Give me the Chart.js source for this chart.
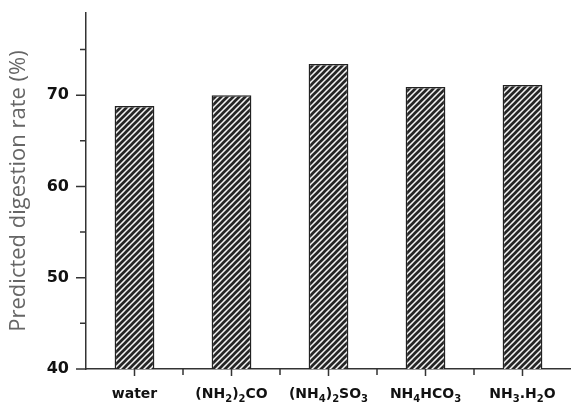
<!DOCTYPE html>
<html>
<head>
<meta charset="utf-8">
<script src="https://cdn.jsdelivr.net/npm/chart.js@4/dist/chart.umd.min.js"></script>
<style>
html,body{margin:0;padding:0;background:#fff;overflow:hidden;}
#wrap{width:571px;height:406px;position:relative;}
</style>
</head>
<body>
<div id="wrap"><canvas id="c" width="571" height="406"></canvas></div>
<script>
// "_x" marks a subscript character
const categories = ["water", "(NH_2)_2CO", "(NH_4)_2SO_3", "NH_4HCO_3", "NH_3.H_2O"];
const digestionRate = [68.8, 70.0, 73.4, 70.9, 71.1];
const yMajorTicks = [40, 50, 60, 70];
const yMinorTicks = [45, 55, 65, 75];

function makeHatch() {
  const s = 6;
  const p = document.createElement('canvas');
  p.width = s; p.height = s;
  const g = p.getContext('2d');
  g.fillStyle = '#f4f4f4';
  g.fillRect(0, 0, s, s);
  g.strokeStyle = '#262626';
  g.lineWidth = 2.7;
  g.beginPath();
  g.moveTo(-1, s + 1); g.lineTo(s + 1, -1);
  g.moveTo(-1, 1); g.lineTo(1, -1);
  g.moveTo(s - 1, s + 1); g.lineTo(s + 1, s - 1);
  g.stroke();
  return document.getElementById('c').getContext('2d').createPattern(p, 'repeat');
}

function parseLabel(str) {
  const segs = [];
  for (let i = 0; i < str.length; i++) {
    if (str[i] === '_' && i + 1 < str.length) { segs.push({ t: str[i + 1], sub: true }); i++; }
    else segs.push({ t: str[i], sub: false });
  }
  return segs;
}

const MAIN_FONT = 'bold 14px "DejaVu Sans"';
const SUB_FONT = 'bold 10px "DejaVu Sans"';

const tickPlugin = {
  id: 'customTicks',
  afterDraw(chart) {
    const ctx = chart.ctx;
    const y = chart.scales.y, x = chart.scales.x;
    const left = chart.chartArea.left, bottom = chart.chartArea.bottom;
    ctx.save();
    ctx.strokeStyle = '#333';
    ctx.lineWidth = 1.5;
    ctx.beginPath();
    yMajorTicks.forEach(v => { const py = y.getPixelForValue(v); ctx.moveTo(left - 10, py); ctx.lineTo(left, py); });
    yMinorTicks.forEach(v => { const py = y.getPixelForValue(v); ctx.moveTo(left - 6, py); ctx.lineTo(left, py); });
    categories.forEach((c, i) => {
      const px = x.getPixelForValue(i);
      ctx.moveTo(px, bottom); ctx.lineTo(px, bottom + 7);
      if (i > 0) {
        const prev = x.getPixelForValue(i - 1);
        const mid = (px + prev) / 2;
        ctx.moveTo(mid, bottom); ctx.lineTo(mid, bottom + 6);
      }
    });
    ctx.stroke();

    // category labels with subscripts
    ctx.fillStyle = '#111';
    ctx.textBaseline = 'alphabetic';
    ctx.textAlign = 'left';
    const baseY = bottom + 29;
    categories.forEach((c, i) => {
      const segs = parseLabel(c);
      let w = 0;
      segs.forEach(s => { ctx.font = s.sub ? SUB_FONT : MAIN_FONT; s.w = ctx.measureText(s.t).width; w += s.w; });
      let cx = x.getPixelForValue(i) - w / 2;
      segs.forEach(s => {
        ctx.font = s.sub ? SUB_FONT : MAIN_FONT;
        ctx.fillText(s.t, cx, s.sub ? baseY + 4 : baseY);
        cx += s.w;
      });
    });
    ctx.restore();
  }
};

new Chart(document.getElementById('c'), {
  type: 'bar',
  data: {
    labels: categories,
    datasets: [{
      data: digestionRate,
      backgroundColor: makeHatch(),
      borderColor: '#222',
      borderWidth: 1.5,
      barPercentage: 0.82,
      categoryPercentage: 0.5
    }]
  },
  options: {
    responsive: false,
    animation: false,
    layout: { padding: 0 },
    plugins: { legend: { display: false }, tooltip: { enabled: false } },
    scales: {
      x: {
        grid: { display: false, drawTicks: false },
        border: { display: true, color: '#333', width: 1.5 },
        ticks: { display: false },
        afterFit(s) { s.height = 37; s.paddingLeft = 0; s.paddingRight = 0; }
      },
      y: {
        min: 40, max: 79,
        grid: { display: false, drawTicks: false },
        border: { display: true, color: '#333', width: 1.5 },
        afterBuildTicks(s) { s.ticks = yMajorTicks.map(v => ({ value: v })); },
        ticks: { color: '#111', font: { family: 'DejaVu Sans', size: 16, weight: 'bold' }, padding: 17 },
        title: { display: true, text: 'Predicted digestion rate (%)', color: '#666', font: { family: 'Open Sans', size: 22 }, padding: { top: 6, bottom: 0 } },
        afterFit(s) { s.width = 86; s.paddingTop = 13; s.paddingBottom = 0; }
      }
    }
  },
  plugins: [tickPlugin]
});
</script>
</body>
</html>
